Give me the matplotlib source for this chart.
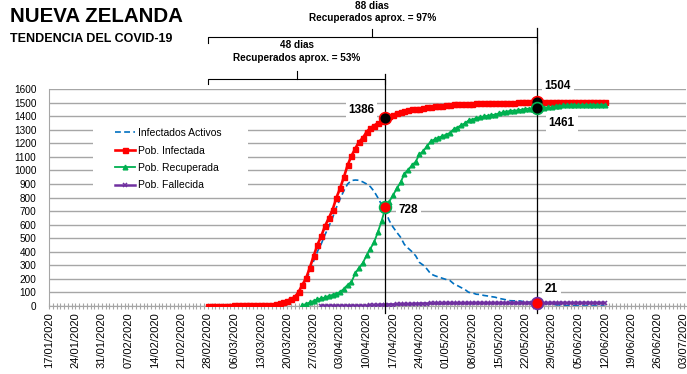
import matplotlib
matplotlib.use("Agg")
import matplotlib.pyplot as plt
import matplotlib.dates as mdates
from matplotlib import font_manager
from matplotlib.patches import Rectangle
import matplotlib.transforms as mtransforms
import numpy as np
import pandas as pd

# --- data (daily values 28/02/2020 .. 12/06/2020) ---
first_day = "2020-02-28"

infectada = [1, 1, 1, 1, 1, 2, 3, 4, 5, 5, 5, 5, 5, 5, 6, 6, 8, 8, 12, 20, 28, 39, 52, 66, 102,
             155, 205, 283, 368, 451, 514, 589, 647,
             708, 797, 868, 950, 1039, 1106, 1160, 1210, 1239, 1283, 1312, 1330, 1349, 1366, 1386,
             1401, 1409, 1422, 1431, 1440, 1445, 1451, 1451, 1456, 1461, 1470, 1469, 1472, 1474, 1476,
             1479, 1485, 1487, 1487, 1488, 1489, 1490, 1492, 1494, 1497, 1497, 1497, 1497, 1497,
             1498, 1499, 1499, 1499, 1499, 1503, 1503, 1503, 1504, 1504, 1504,
             1504, 1504, 1504, 1504, 1504, 1504,
             1504, 1504, 1504, 1504, 1504, 1504, 1504, 1504, 1504, 1504, 1504, 1504]

recuperada = [np.nan] * 25 + [
    5, 15, 27, 37, 50, 56, 63, 74,
    82, 92, 103, 127, 156, 176, 241, 282, 317, 373, 422, 471, 546, 628, 728,
    770, 816, 867, 912, 974, 1006, 1036, 1065, 1118, 1142, 1180, 1214, 1229, 1241, 1252,
    1263, 1276, 1302, 1316, 1332, 1347, 1368, 1374, 1386, 1391, 1398, 1402, 1407, 1411,
    1421, 1427, 1433, 1439, 1440, 1443, 1447, 1453, 1455, 1456, 1461,
    1462, 1463, 1464, 1465, 1473, 1474,
    1479, 1480, 1481, 1481, 1481, 1482, 1482, 1482, 1482, 1482, 1482, 1482]

fallecida = [np.nan] * 30 + [
    1, 1, 1,                                          # 29/03 - 31/03
    1, 1, 1, 1, 1, 1, 1, 1, 1, 1,                     # 01/04 - 10/04
    4, 4, 5, 9, 9, 11, 11, 12, 12, 12,                # 11/04 - 20/04
    13, 14, 16, 17, 18, 18, 19, 19, 19, 19,           # 21/04 - 30/04
    20, 20, 20, 20, 20, 20, 21, 21, 21, 21,           # 01/05 - 10/05
    21, 21, 21, 21, 21, 21, 21, 21, 21, 21,           # 11/05 - 20/05
    21, 21, 21, 21, 21, 21, 21, 22, 22, 22, 22,       # 21/05 - 31/05
    22, 22, 22, 22, 22, 22, 22, 22, 22, 22, 22, 22]   # 01/06 - 12/06

activos = [1, 1, 1, 1, 1, 2, 3, 4, 5, 5, 5, 5, 5, 5, 6, 6, 8, 8, 12, 20, 28, 39, 52, 66, 102,
           150, 190, 256, 331, 401, 457, 525, 585,
           650, 725, 790, 850, 900, 925, 929, 927, 915, 900, 880, 845, 798, 745, 700,
           630, 582, 543, 507, 454, 426, 401, 370, 321, 301, 272, 236, 224, 214, 205,
           196, 189, 165, 151, 136, 122, 101, 97, 87, 85, 78, 74, 69, 65,
           56, 51, 45, 39, 38, 39, 35, 29, 28, 27, 22,
           21, 20, 18, 17, 9, 8,
           3, 2, 1, 1, 1, 0, 0, 0, 0, 0, 0, 0]

# marked points
fecha_1 = "2020-04-15"
fecha_2 = "2020-05-25"
bracket_start = "2020-02-28"

# --- fonts ---
names = {f.name for f in font_manager.fontManager.ttflist}
narrow = "Liberation Sans Narrow" if "Liberation Sans Narrow" in names else "Liberation Sans"
plt.rcParams["font.family"] = ["Liberation Sans", "DejaVu Sans"]

dates = pd.date_range(first_day, periods=len(infectada)).to_pydatetime()
d1 = pd.Timestamp(fecha_1).to_pydatetime()
d2 = pd.Timestamp(fecha_2).to_pydatetime()
d0 = pd.Timestamp(bracket_start).to_pydatetime()

W, H = 687, 374
fig = plt.figure(figsize=(W / 100, H / 100), dpi=100)
ax = fig.add_axes([49 / W, 1 - 306 / H, (686 - 49) / W, 217 / H])

grid_c = "#A6A6A6"
ax.set_ylim(0, 1600)
ax.set_yticks(range(0, 1601, 100))
ax.yaxis.grid(True, color=grid_c, lw=1)
ax.set_axisbelow(True)

x_start = pd.Timestamp("2020-01-17").to_pydatetime()
ax.set_xlim(x_start, x_start + pd.Timedelta(days=168.5))
major = pd.date_range("2020-01-17", "2020-07-03", freq="7D").to_pydatetime()
ax.set_xticks(major)
ax.xaxis.set_minor_locator(mdates.DayLocator())
ax.xaxis.set_major_formatter(mdates.DateFormatter("%d/%m/%Y"))
ax.tick_params(axis="x", which="both", direction="inout", length=5, color=grid_c,
               width=0.8, labelsize=8, rotation=90, pad=2)
ax.tick_params(axis="y", length=0, labelsize=7.2, pad=9)

for s in ["top", "right"]:
    ax.spines[s].set_visible(False)
for s in ["left", "bottom"]:
    ax.spines[s].set_color(grid_c)

# legend background hides gridlines
ax.add_patch(Rectangle((93 / W, 1 - 197 / H), 155 / W, 70 / H, transform=fig.transFigure,
                       facecolor="white", edgecolor="none", zorder=1.5))

blue, red, green, purple = "#0070C0", "#FF0000", "#00B050", "#7030A0"
ax.plot(dates, activos, color=blue, lw=1.2, ls=(0, (3.5, 2)), zorder=3, label="Infectados Activos")
ax.plot(dates, infectada, color=red, lw=1.9, marker="s", ms=3.6, zorder=4, label="Pob. Infectada")
ax.plot(dates, recuperada, color=green, lw=1.3, marker="^", ms=3.4, zorder=4, label="Pob. Recuperada")
ax.plot(dates, fallecida, color=purple, lw=1.8, marker="x", ms=3.4, mew=1.1, zorder=4, label="Pob. Fallecida")

ax.legend(loc="upper left", bbox_to_anchor=(118 / W - 0.004, 1 - 128 / H), bbox_transform=fig.transFigure,
          frameon=False, fontsize=7.5, handlelength=1.9, handletextpad=0.3, labelspacing=0.72,
          borderpad=0, borderaxespad=0)

# vertical reference lines
bt = mtransforms.blended_transform_factory(ax.transData, ax.transAxes)


def fy(p):
    # pixel row -> axes fraction
    return (306 - p) / 217


ax.plot([d1, d1], [fy(74), fy(313)], color="black", lw=0.9, transform=bt, clip_on=False, zorder=5)
ax.plot([d2, d2], [fy(28), fy(313)], color="black", lw=0.9, transform=bt, clip_on=False, zorder=5)

# brackets
for a, b, y_h, y_low, y_tick in [(d0, d2, 37, 43, 29), (d0, d1, 79, 84, 71)]:
    ax.plot([a, a, b, b], [fy(y_low), fy(y_h), fy(y_h), fy(y_low)], color="black", lw=0.8,
            transform=bt, clip_on=False)
    mid = a + (b - a) / 2
    ax.plot([mid, mid], [fy(y_h), fy(y_tick)], color="black", lw=0.8, transform=bt, clip_on=False)

mid2 = d0 + (d2 - d0) / 2
mid1 = d0 + (d1 - d0) / 2
for x, y, t in [(mid2, 6, "88 dias"), (mid2, 18, "Recuperados aprox. = 97%"),
                (mid1, 45, "48 dias"), (mid1, 58, "Recuperados aprox. = 53%")]:
    ax.text(x, fy(y), t, transform=bt, ha="center", va="center", fontsize=7.2,
            fontweight="bold", family=[narrow, "DejaVu Sans"])

# highlighted points
pts = [(d1, 1386, "black", red, "1386", -24, 8),
       (d1, 728, red, green, "728", 23, -3),
       (d2, 1504, "black", red, "1504", 21, 16),
       (d2, 1461, "black", green, "1461", 25, -15),
       (d2, 21, red, purple, "21", 15, 14)]
for x, y, fc, ec, t, dx, dy in pts:
    ax.plot([x], [y], "o", ms=8.5, mfc=fc, mec=ec, mew=1.2, zorder=6, clip_on=False)
    ax.annotate(t, xy=(x, y), xytext=(dx * 0.72, dy * 0.72), textcoords="offset points",
                ha="center", va="center", fontsize=8.5, fontweight="bold", zorder=6,
                bbox=dict(boxstyle="square,pad=0.25", fc="white", ec="none"))

# titles
fig.text(10 / W, 1 - 17 / H, "NUEVA ZELANDA", fontsize=14.8, fontweight="bold",
         family=[narrow, "DejaVu Sans"], va="center", ha="left")
fig.text(10 / W, 1 - 39 / H, "TENDENCIA DEL COVID-19", fontsize=9, fontweight="bold",
         va="center", ha="left")

fig.savefig("out.png", dpi=100)
